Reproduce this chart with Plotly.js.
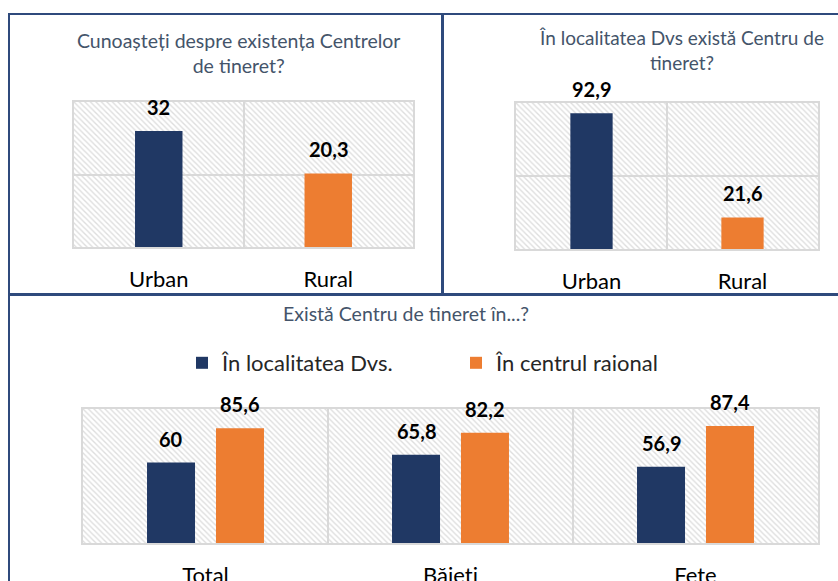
<!DOCTYPE html>
<html>
<head>
<meta charset="utf-8">
<script src="https://cdn.plot.ly/plotly-3.0.1.min.js"></script>
<style>html,body{margin:0;padding:0;background:#fff;}#chart{width:838px;height:581px;}</style>
</head>
<body>
<div id="chart"></div>
<script>
// ---- Data ----
const title1 = "Cunoașteți despre existența Centrelor<br>de tineret?";
const cats1 = ["Urban", "Rural"];
const vals1 = [32, 20.3];

const title2 = "În localitatea Dvs există Centru de<br>tineret?";
const cats2 = ["Urban", "Rural"];
const vals2 = [92.9, 21.6];

const title3 = "Există Centru de tineret în...?";
const cats3 = ["Total", "Băieți", "Fete"];
const seriesA = "În localitatea Dvs.";
const valsA = [60, 65.8, 56.9];
const seriesB = "În centrul raional";
const valsB = [85.6, 82.2, 87.4];

// ---- Styling ----
const W = 838, H = 581;
const NAVY = "#203864", ORANGE = "#ed7d31";
const GRID = "#d9d9d9";
const TITLE_C = "#44546a";
const BORDER = "#2f4a7c";
const FONT = "Lato, 'Open Sans', sans-serif";
const fmt = v => String(v).replace(".", ",");
const px = x => x / W;
const py = y => 1 - y / H;

const hatchSvg = (w, h) => {
  const s = `<svg xmlns='http://www.w3.org/2000/svg' width='${w}' height='${h}'>` +
    `<defs><pattern id='p' patternUnits='userSpaceOnUse' width='5.5' height='5.5'>` +
    `<path d='M-1,-1 L6.5,6.5 M-1,4.5 L1,6.5 M4.5,-1 L6.5,1' stroke='#dedede' stroke-width='1.4'/></pattern></defs>` +
    `<rect width='${w}' height='${h}' fill='url(#p)'/></svg>`;
  return "data:image/svg+xml;charset=utf-8," + encodeURIComponent(s);
};

const doms = {
  1: {x: [74, 413], y: [102, 247]},
  2: {x: [516, 818], y: [103, 249]},
  3: {x: [83, 818], y: [409, 543]}
};

const bargap = 0.437;

const traces = [
  {type: "bar", x: cats1, y: vals1, xaxis: "x", yaxis: "y", width: 0.28,
   marker: {color: [NAVY, ORANGE]}, showlegend: false, hoverinfo: "skip"},
  {type: "bar", x: cats2, y: vals2, xaxis: "x2", yaxis: "y2", width: 0.28,
   marker: {color: [NAVY, ORANGE]}, showlegend: false, hoverinfo: "skip"},
  {type: "bar", name: seriesA, x: cats3, y: valsA, xaxis: "x3", yaxis: "y3",
   marker: {color: NAVY}, hoverinfo: "skip"},
  {type: "bar", name: seriesB, x: cats3, y: valsB, xaxis: "x3", yaxis: "y3",
   marker: {color: ORANGE}, hoverinfo: "skip"}
];

const labelFont = {family: FONT, size: 20, color: "#000000", weight: 700};
const LSHIFT = 24;
const annotations = [];
cats1.forEach((c, i) => annotations.push({xref: "x", yref: "y", x: c, y: vals1[i], text: "<b>" + fmt(vals1[i]) + "</b>",
  showarrow: false, yanchor: "middle", yshift: LSHIFT, font: labelFont}));
cats2.forEach((c, i) => annotations.push({xref: "x2", yref: "y2", x: c, y: vals2[i], text: "<b>" + fmt(vals2[i]) + "</b>",
  showarrow: false, yanchor: "middle", yshift: LSHIFT, font: labelFont}));
const off = (1 - bargap) / 4;
cats3.forEach((c, i) => {
  annotations.push({xref: "x3", yref: "y3", x: i - off, y: valsA[i], text: "<b>" + fmt(valsA[i]) + "</b>",
    showarrow: false, yanchor: "middle", yshift: LSHIFT, font: labelFont});
  annotations.push({xref: "x3", yref: "y3", x: i + off, y: valsB[i], text: "<b>" + fmt(valsB[i]) + "</b>",
    showarrow: false, yanchor: "middle", yshift: LSHIFT, font: labelFont});
});
// titles
annotations.push({xref: "paper", yref: "paper", x: px(238), y: py(53), text: title1, showarrow: false,
  xanchor: "center", yanchor: "middle", align: "center", font: {family: FONT, size: 19.5, color: TITLE_C}});
annotations.push({xref: "paper", yref: "paper", x: px(681), y: py(50), text: title2, showarrow: false,
  xanchor: "center", yanchor: "middle", align: "center", font: {family: FONT, size: 19, color: TITLE_C}});
annotations.push({xref: "paper", yref: "paper", x: px(406), y: py(313), text: title3, showarrow: false,
  xanchor: "center", yanchor: "middle", align: "center", font: {family: FONT, size: 19.5, color: TITLE_C}});

const xaxisBase = {type: "category", tickson: "boundaries", showgrid: true, gridcolor: GRID, gridwidth: 2,
  showline: true, mirror: true, linecolor: GRID, linewidth: 2, ticks: "outside", ticklen: 18,
  ticklabelstandoff: 12,
  tickcolor: "rgba(0,0,0,0)", tickfont: {family: FONT, size: 22, color: "#000"}, zeroline: false, fixedrange: true};
const yaxisBase = {showticklabels: false, showline: true, mirror: true, linecolor: GRID, linewidth: 2,
  gridcolor: GRID, gridwidth: 2, zeroline: false, ticks: "", fixedrange: true};

const images = [1, 2, 3].map(k => {
  const d = doms[k];
  const suf = k === 1 ? "" : String(k);
  return {source: hatchSvg(d.x[1] - d.x[0], d.y[1] - d.y[0]), xref: "x" + suf + " domain", yref: "y" + suf + " domain",
    x: 0, y: 1, sizex: 1, sizey: 1, xanchor: "left", yanchor: "top", sizing: "stretch", layer: "below"};
});

const shapes = [
  // panel 1
  {type: "rect", xref: "paper", yref: "paper", x0: px(9), x1: px(442), y0: py(294), y1: py(14), line: {color: BORDER, width: 2}},
  // panel 2
  {type: "line", xref: "paper", yref: "paper", x0: px(443), x1: px(840), y0: py(14), y1: py(14), line: {color: BORDER, width: 2}},
  {type: "line", xref: "paper", yref: "paper", x0: px(443), x1: px(443), y0: py(14), y1: py(294), line: {color: BORDER, width: 2}},
  {type: "line", xref: "paper", yref: "paper", x0: px(443), x1: px(840), y0: py(294), y1: py(294), line: {color: BORDER, width: 2}},
  // panel 3
  {type: "line", xref: "paper", yref: "paper", x0: px(9), x1: px(840), y0: py(295), y1: py(295), line: {color: BORDER, width: 2}},
  {type: "line", xref: "paper", yref: "paper", x0: px(9), x1: px(9), y0: py(295), y1: py(590), line: {color: BORDER, width: 2}}
];

const layout = {
  width: W, height: H, margin: {l: 0, r: 0, t: 0, b: 0},
  paper_bgcolor: "#ffffff", plot_bgcolor: "rgba(0,0,0,0)",
  barmode: "group", bargap: bargap, bargroupgap: 0.304,
  font: {family: FONT},
  xaxis: Object.assign({}, xaxisBase, {domain: [px(doms[1].x[0]), px(doms[1].x[1])], anchor: "y"}),
  yaxis: Object.assign({}, yaxisBase, {domain: [py(doms[1].y[1]), py(doms[1].y[0])], anchor: "x", range: [0, 40], dtick: 20, showgrid: true}),
  xaxis2: Object.assign({}, xaxisBase, {domain: [px(doms[2].x[0]), px(doms[2].x[1])], anchor: "y2"}),
  yaxis2: Object.assign({}, yaxisBase, {domain: [py(doms[2].y[1]), py(doms[2].y[0])], anchor: "x2", range: [0, 100], dtick: 50, showgrid: true}),
  xaxis3: Object.assign({}, xaxisBase, {domain: [px(doms[3].x[0]), px(doms[3].x[1])], anchor: "y3"}),
  yaxis3: Object.assign({}, yaxisBase, {domain: [py(doms[3].y[1]), py(doms[3].y[0])], anchor: "x3", range: [0, 100], showgrid: false}),
  showlegend: true,
  legend: {orientation: "h", x: px(182), y: py(363), xanchor: "left", yanchor: "middle",
    font: {family: FONT, size: 22, color: "#262626"}, bgcolor: "rgba(0,0,0,0)", entrywidth: 229, entrywidthmode: "pixels",
    itemclick: false, itemdoubleclick: false},
  annotations: annotations,
  shapes: shapes,
  images: images
};

Plotly.newPlot("chart", traces, layout, {displayModeBar: false, staticPlot: true});
</script>
</body>
</html>
